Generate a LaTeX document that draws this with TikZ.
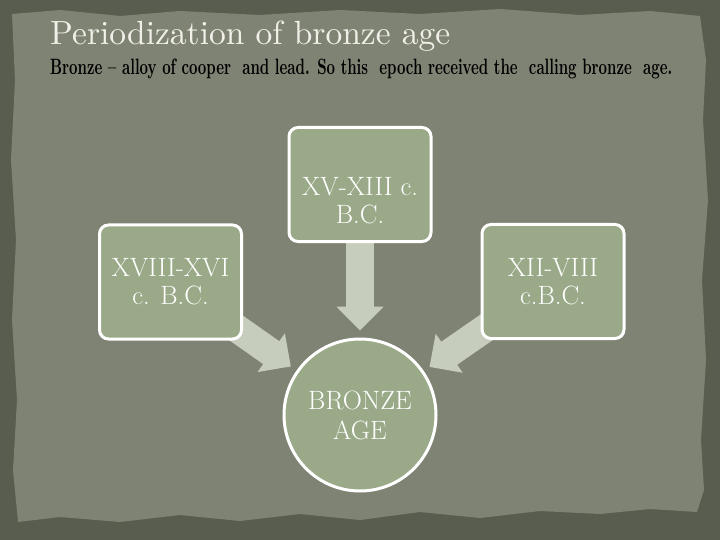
\documentclass[tikz,border=0pt]{standalone}
\usetikzlibrary{arrows.meta}
\definecolor{framecol}{HTML}{585D4F}
\definecolor{papercol}{HTML}{7F8373}
\definecolor{boxfill}{HTML}{9AAA88}
\definecolor{arrowfill}{HTML}{C6CDBD}
\definecolor{titlecol}{HTML}{F0F0E8}
\pgfdeclarelayer{bg}
\pgfdeclarelayer{arr}
\pgfsetlayers{bg,arr,main}
\begin{document}
\begin{tikzpicture}[x=1pt,y=-1pt,
  periodbox/.style={draw=white, line width=3pt, fill=boxfill, rounded corners=9pt,
    minimum width=142pt, minimum height=114pt, inner sep=0pt, align=center,
    text=white, font=\fontsize{26.5}{28}\selectfont},
  agecircle/.style={circle, draw=white, line width=3pt, fill=boxfill,
    minimum size=152pt, inner sep=0pt, align=center, text=white,
    font=\fontsize{26.5}{30}\selectfont},
  blockarrow/.style={draw=arrowfill, line width=28pt,
    -{Triangle[width=46pt,length=24pt]}, shorten >=7pt, shorten <=-25pt}]
\useasboundingbox (0,0) rectangle (720,540);

\begin{pgfonlayer}{bg}
  \fill[framecol] (0,0) rectangle (720,540);
  \fill[papercol] (12,14) -- (60,10) -- (120,16) -- (180,11) -- (260,15) -- (340,10)
    -- (420,14) -- (500,9) -- (580,15) -- (650,11) -- (700,16)
    -- (706,60) -- (703,120) -- (708,200) -- (702,280) -- (706,360) -- (701,440)
    -- (704,490) -- (697,512)
    -- (650,509) -- (600,514) -- (540,511) -- (480,518) -- (420,512) -- (360,520)
    -- (300,514) -- (240,521) -- (180,515) -- (120,522) -- (60,517) -- (18,522)
    -- (13,470) -- (17,400) -- (12,320) -- (16,240) -- (11,160) -- (15,80) -- cycle;
\end{pgfonlayer}

\node[anchor=base west, inner sep=0pt, text=titlecol] (title) at (50,45)
  {\resizebox{400pt}{!}{Periodization of bronze age}};
\node[anchor=base west, inner sep=0pt, text=black] (subtitle) at (50,75)
  {\resizebox*{622pt}{20pt}{\bfseries Bronze -- alloy of cooper\ \ and lead. So this\ \ epoch received the\ \ calling bronze\ \ age.}};

\node[periodbox] (top) at (360,184.5) {\rule{0pt}{50pt}XV-XIII c.\\B.C.};
\node[periodbox] (left) at (170.5,282) {XVIII-XVI\\c. B.C.};
\node[periodbox] (right) at (553,281.5) {XII-VIII\\c.B.C.};
\node[agecircle] (age) at (360,415) {BRONZE\\AGE};

\begin{pgfonlayer}{arr}
  \draw[blockarrow] (top) -- (age);
  \draw[blockarrow] (left) -- (age);
  \draw[blockarrow] (right) -- (age);
\end{pgfonlayer}
\end{tikzpicture}
\end{document}
